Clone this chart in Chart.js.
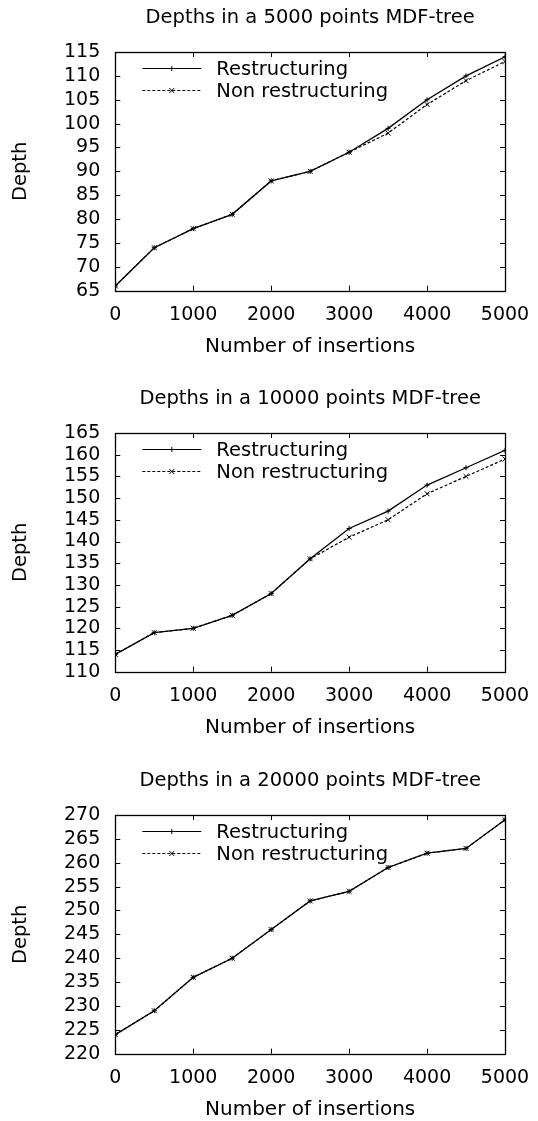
<!DOCTYPE html>
<html>
<head>
<meta charset="utf-8">
<script src="https://cdn.jsdelivr.net/npm/chart.js@4/dist/chart.umd.min.js"></script>
<style>
  html, body { margin: 0; padding: 0; background: #fff; overflow: hidden; }
  body { width: 538px; height: 1121px; position: relative; }
  .box { position: absolute; left: 0; width: 538px; height: 370px; }
</style>
</head>
<body>
<div class="box" style="top:0px"><canvas id="c5000"></canvas></div>
<div class="box" style="top:381px"><canvas id="c10000"></canvas></div>
<div class="box" style="top:763px"><canvas id="c20000"></canvas></div>
<script>
// number of insertions (x values)
const insertions = [0, 500, 1000, 1500, 2000, 2500, 3000, 3500, 4000, 4500, 5000];

// depths
const depth5000Restr = [66, 74, 78, 81, 88, 90, 94, 99, 105, 110, 114];
const depth5000Non   = [66, 74, 78, 81, 88, 90, 94, 98, 104, 109, 113];

const depth10000Restr = [114, 119, 120, 123, 128, 136, 143, 147, 153, 157, 161];
const depth10000Non   = [114, 119, 120, 123, 128, 136, 141, 145, 151, 155, 159];

const depth20000Restr = [224, 229, 236, 240, 246, 252, 254, 259, 262, 263, 269];
const depth20000Non   = [224, 229, 236, 240, 246, 252, 254, 259, 262, 263, 269];

const seriesNames = ['Restructuring', 'Non restructuring'];
const FONT = "'DejaVu Sans', sans-serif";

// gnuplot style frame: border plus inward ticks on all four sides
const framePlugin = {
    id: 'frame',
    afterDraw(chart){
        const ctx = chart.ctx, a = chart.chartArea;
        const xs = chart.scales.x, ys = chart.scales.y;
        const len = 5;
        ctx.save();
        ctx.strokeStyle = '#000';
        ctx.lineWidth = 1;
        ctx.beginPath();
        xs.ticks.forEach(t => {
            const px = Math.round(xs.getPixelForValue(t.value)) + 0.5;
            ctx.moveTo(px, a.bottom); ctx.lineTo(px, a.bottom - len);
            ctx.moveTo(px, a.top); ctx.lineTo(px, a.top + len);
        });
        ys.ticks.forEach(t => {
            const py = Math.round(ys.getPixelForValue(t.value)) + 0.5;
            ctx.moveTo(a.left, py); ctx.lineTo(a.left + len, py);
            ctx.moveTo(a.right, py); ctx.lineTo(a.right - len, py);
        });
        ctx.stroke();
        ctx.lineWidth = 1.3;
        ctx.strokeRect(Math.round(a.left) + 0.5, Math.round(a.top) + 0.5,
                       Math.round(a.right - a.left), Math.round(a.bottom - a.top));
        ctx.restore();
    }
};

function marker(ctx, style, x, y, r){
    ctx.beginPath();
    if (style === 'cross') {
        ctx.moveTo(x - r, y); ctx.lineTo(x + r, y);
        ctx.moveTo(x, y - r); ctx.lineTo(x, y + r);
    } else {
        ctx.moveTo(x - r, y - r); ctx.lineTo(x + r, y + r);
        ctx.moveTo(x - r, y + r); ctx.lineTo(x + r, y - r);
    }
    ctx.stroke();
}

// key inside the plot, top left
const keyPlugin = {
    id: 'key',
    afterDraw(chart){
        const ctx = chart.ctx, a = chart.chartArea;
        ctx.save();
        ctx.font = '19.5px ' + FONT;
        ctx.textBaseline = 'middle';
        ctx.fillStyle = '#000';
        chart.data.datasets.forEach((ds, i) => {
            const y = Math.round(a.top + 16.3 + i * 21.7) + 0.5;
            const x0 = a.left + 27, x1 = a.left + 86;
            ctx.strokeStyle = '#000';
            ctx.lineWidth = 1.2;
            ctx.setLineDash(ds.borderDash || []);
            ctx.beginPath(); ctx.moveTo(x0, y); ctx.lineTo(x1, y); ctx.stroke();
            ctx.setLineDash([]);
            ctx.lineWidth = 1;
            marker(ctx, ds.pointStyle, (x0 + x1) / 2, y, 2.5);
            ctx.fillText(ds.label, a.left + 101, y + 1);
        });
        ctx.restore();
    }
};

function makeChart(id, title, restr, non, yMin, yMax){
    const ctx = document.getElementById(id).getContext('2d');
    return new Chart(ctx, {
        type: 'line',
        data: {
            datasets: [{
                label: seriesNames[0],
                data: insertions.map((x, i) => ({x: x, y: restr[i]})),
                borderColor: '#000',
                borderWidth: 1.3,
                pointStyle: 'cross',
                pointRadius: 2.5,
                pointBorderColor: '#000',
                pointBorderWidth: 1,
                tension: 0
            }, {
                label: seriesNames[1],
                data: insertions.map((x, i) => ({x: x, y: non[i]})),
                borderColor: '#000',
                borderWidth: 1.2,
                borderDash: [3, 2],
                pointStyle: 'crossRot',
                pointRadius: 3.5,
                pointBorderColor: '#000',
                pointBorderWidth: 1,
                tension: 0
            }]
        },
        options: {
            responsive: true,
            maintainAspectRatio: false,
            animation: false,
            layout: { padding: { left: 0, right: 33, top: 0, bottom: 0 } },
            scales: {
                x: {
                    type: 'linear', min: 0, max: 5000,
                    grid: { display: false, drawTicks: false },
                    border: { display: false },
                    ticks: { stepSize: 1000, padding: 13, color: '#000', autoSkip: false, maxRotation: 0,
                             font: { family: FONT, size: 19 },
                             callback: v => String(v) },
                    title: { display: true, text: 'Number of insertions', color: '#000',
                             font: { family: FONT, size: 20 }, padding: { top: 0, bottom: 11.3 } },
                    afterFit(s){ s.height = 79.3; s.paddingLeft = 0; s.paddingRight = 0; }
                },
                y: {
                    min: yMin, max: yMax,
                    grid: { display: false, drawTicks: false },
                    border: { display: false },
                    ticks: { stepSize: 5, padding: 15, color: '#000', autoSkip: false,
                             font: { family: FONT, size: 19 },
                             callback: v => String(v) },
                    title: { display: true, text: 'Depth', color: '#000',
                             font: { family: FONT, size: 19.5 }, padding: { top: 9, bottom: 0 } },
                    afterFit(s){ s.width = 115.3; s.paddingTop = 0; s.paddingBottom = 0; }
                }
            },
            plugins: {
                legend: { display: false },
                tooltip: { enabled: false },
                title: {
                    display: true, text: title, color: '#000', fullSize: false,
                    font: { family: FONT, size: 19.5, weight: 'normal' },
                    padding: { top: 6.3, bottom: 22.3 }
                }
            }
        },
        plugins: [framePlugin, keyPlugin]
    });
}

makeChart('c5000', 'Depths in a 5000 points MDF-tree', depth5000Restr, depth5000Non, 65, 115);
makeChart('c10000', 'Depths in a 10000 points MDF-tree', depth10000Restr, depth10000Non, 110, 165);
makeChart('c20000', 'Depths in a 20000 points MDF-tree', depth20000Restr, depth20000Non, 220, 270);
</script>
</body>
</html>
